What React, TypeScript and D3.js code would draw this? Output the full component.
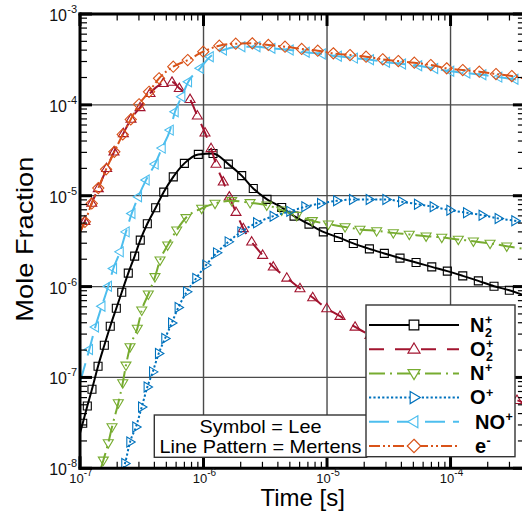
import React from 'react';
import * as d3 from 'd3';

type Pt = [number, number];

// time [s], mole fraction
const N2plus: Pt[] = [
  [1e-7, 2.43e-8], [1.052e-7, 3.13e-8], [1.146e-7, 4.85e-8], [1.25e-7, 7.41e-8], [1.40e-7, 1.33e-7],
  [1.574e-7, 2.26e-7], [1.758e-7, 3.66e-7], [1.968e-7, 5.78e-7], [2.178e-7, 8.67e-7], [2.46e-7, 1.406e-6],
  [2.77e-7, 2.163e-6], [3.076e-7, 3.243e-6], [3.508e-7, 4.909e-6], [4.10e-7, 7.36e-6], [4.764e-7, 1.096e-5],
  [5.69e-7, 1.614e-5], [7.0e-7, 2.27e-5], [9.08e-7, 2.85e-5], [1.194e-6, 2.91e-5], [1.589e-6, 2.228e-5],
  [2.037e-6, 1.663e-5], [2.529e-6, 1.202e-5], [3.266e-6, 9.12e-6], [4.295e-6, 7.43e-6], [5.41e-6, 5.957e-6],
  [7.145e-6, 4.864e-6], [9.33e-6, 4.0e-6], [1.236e-5, 3.475e-6], [1.633e-5, 2.985e-6], [2.203e-5, 2.6e-6],
  [2.911e-5, 2.317e-6], [3.9e-5, 2.056e-6], [5.26e-5, 1.841e-6], [7.047e-5, 1.648e-6], [9.42e-5, 1.479e-6],
  [1.256e-4, 1.312e-6], [1.679e-4, 1.156e-6], [2.249e-4, 1.009e-6], [2.992e-4, 9.12e-7], [3.98e-4, 7.94e-7],
];

const O2plus: Pt[] = [
  [1e-7, 3.97e-6], [1.096e-7, 5.25e-6], [1.245e-7, 8.3e-6], [1.406e-7, 1.202e-5], [1.644e-7, 2.0e-5],
  [1.884e-7, 3.04e-5], [2.244e-7, 4.853e-5], [2.588e-7, 6.98e-5], [3.062e-7, 9.376e-5], [3.69e-7, 1.34e-4],
  [4.72e-7, 1.726e-4], [5.559e-7, 1.782e-4], [6.368e-7, 1.521e-4], [7.78e-7, 1.151e-4], [8.913e-7, 7.586e-5],
  [1.028e-6, 4.932e-5], [1.151e-6, 3.319e-5], [1.262e-6, 2.228e-5], [1.445e-6, 1.422e-5], [1.618e-6, 9.73e-6],
  [1.832e-6, 6.592e-6], [2.099e-6, 4.365e-6], [2.455e-6, 3.105e-6], [3.013e-6, 2.218e-6], [3.673e-6, 1.648e-6],
  [4.721e-6, 1.245e-6], [6.039e-6, 9.53e-7], [7.656e-6, 7.586e-7], [9.95e-6, 5.741e-7], [1.274e-5, 4.72e-7],
  [1.687e-5, 3.597e-7], [2.228e-5, 2.917e-7], [3.9e-5, 1.897e-7], [9.91e-5, 1.057e-7], [3.451e-4, 5.61e-8],
  [4.17e-4, 5.13e-8],
];

const Nplus: Pt[] = [
  [1.479e-7, 1e-8], [1.545e-7, 1.225e-8], [1.694e-7, 1.901e-8], [1.816e-7, 2.851e-8], [2.042e-7, 5.236e-8],
  [2.218e-7, 8.69e-8], [2.355e-7, 1.361e-7], [2.541e-7, 2.168e-7], [2.911e-7, 3.459e-7], [3.162e-7, 5.495e-7],
  [3.573e-7, 8.24e-7], [4.046e-7, 1.279e-6], [4.446e-7, 1.954e-6], [5.129e-7, 2.858e-6], [6.067e-7, 4.178e-6],
  [7.211e-7, 5.715e-6], [9.66e-7, 7.244e-6], [1.239e-6, 8.22e-6], [1.69e-6, 8.79e-6], [2.382e-6, 8.356e-6],
  [3.251e-6, 7.87e-6], [4.295e-6, 6.934e-6], [5.689e-6, 6.039e-6], [7.603e-6, 5.297e-6], [1.026e-5, 4.864e-6],
  [1.4e-5, 4.539e-6], [1.849e-5, 4.256e-6], [2.523e-5, 4.102e-6], [3.443e-5, 3.9e-6], [4.634e-5, 3.75e-6],
  [6.339e-5, 3.589e-6], [8.492e-5, 3.475e-6], [1.156e-4, 3.304e-6], [1.531e-4, 3.162e-6], [2.089e-4, 2.985e-6],
  [2.851e-4, 2.786e-6], [4.17e-4, 2.57e-6],
];

const Oplus: Pt[] = [
  [2.249e-7, 1e-8], [2.312e-7, 1.127e-8], [2.541e-7, 1.95e-8], [2.838e-7, 2.851e-8], [3.162e-7, 4.732e-8],
  [3.508e-7, 7.852e-8], [3.882e-7, 1.151e-7], [4.335e-7, 1.832e-7], [4.875e-7, 2.679e-7], [5.534e-7, 3.981e-7],
  [6.252e-7, 5.888e-7], [7.311e-7, 8.75e-7], [8.69e-7, 1.227e-6], [1.047e-6, 1.722e-6], [1.279e-6, 2.35e-6],
  [1.589e-6, 3.105e-6], [2.014e-6, 4.0e-6], [2.698e-6, 5.035e-6], [3.673e-6, 5.957e-6], [5.012e-6, 6.73e-6],
  [6.637e-6, 7.551e-6], [8.892e-6, 8.22e-6], [1.2e-5, 8.79e-6], [1.614e-5, 9.1e-6], [2.203e-5, 9.1e-6],
  [3.006e-5, 9.1e-6], [4.027e-5, 8.57e-6], [5.42e-5, 8.07e-6], [7.261e-5, 7.551e-6], [9.91e-5, 6.934e-6],
  [1.352e-4, 6.486e-6], [1.807e-4, 6.109e-6], [2.438e-4, 5.623e-6], [3.327e-4, 5.297e-6], [4.17e-4, 5.01e-6],
];

const NOplus: Pt[] = [
  [1e-7, 8.85e-8], [1.189e-7, 2.028e-7], [1.33e-7, 3.597e-7], [1.5e-7, 6.081e-7], [1.694e-7, 1.009e-6],
  [1.862e-7, 1.581e-6], [2.109e-7, 2.41e-6], [2.355e-7, 4.0e-6], [2.624e-7, 6.383e-6], [2.965e-7, 9.73e-6],
  [3.42e-7, 1.486e-5], [4.046e-7, 2.228e-5], [4.613e-7, 3.342e-5], [5.358e-7, 5.272e-5], [5.875e-7, 8.395e-5],
  [6.653e-7, 1.227e-4], [7.534e-7, 1.795e-4], [9.376e-7, 2.523e-4], [1.13e-6, 3.388e-4], [1.445e-6, 4.018e-4],
  [2.037e-6, 4.365e-4], [2.698e-6, 4.365e-4], [3.565e-6, 4.188e-4], [5.012e-6, 4.018e-4], [6.76e-6, 3.8e-4],
  [9.12e-6, 3.63e-4], [1.23e-5, 3.43e-4], [1.66e-5, 3.27e-4], [2.24e-5, 3.13e-4], [3.02e-5, 2.95e-4],
  [4.07e-5, 2.82e-4], [5.5e-5, 2.69e-4], [7.41e-5, 2.51e-4], [1e-4, 2.34e-4], [1.35e-4, 2.24e-4],
  [1.82e-4, 2.14e-4], [2.45e-4, 2.02e-4], [3.31e-4, 1.91e-4], [4.17e-4, 1.82e-4],
];

const Eminus: Pt[] = [
  [1e-7, 3.97e-6], [1.096e-7, 5.164e-6], [1.245e-7, 8.22e-6], [1.406e-7, 1.213e-5], [1.626e-7, 1.95e-5],
  [1.897e-7, 3.04e-5], [2.218e-7, 4.73e-5], [2.576e-7, 6.92e-5], [3.006e-7, 1.014e-4], [3.622e-7, 1.393e-4],
  [4.365e-7, 1.959e-4], [5.69e-7, 2.63e-4], [7.447e-7, 3.112e-4], [9.95e-7, 3.846e-4], [1.343e-6, 4.477e-4],
  [1.824e-6, 4.71e-4], [2.483e-6, 4.753e-4], [3.35e-6, 4.56e-4], [4.571e-6, 4.365e-4], [6.237e-6, 4.121e-4],
  [8.414e-6, 3.945e-4], [1.125e-5, 3.69e-4], [1.535e-5, 3.532e-4], [2.07e-5, 3.388e-4], [2.825e-5, 3.17e-4],
  [3.776e-5, 3.034e-4], [5.093e-5, 2.911e-4], [6.918e-5, 2.742e-4], [9.31e-5, 2.523e-4], [1.256e-4, 2.415e-4],
  [1.71e-4, 2.317e-4], [2.333e-4, 2.183e-4], [3.133e-4, 2.075e-4], [3.98e-4, 1.95e-4],
];

const seriesNames = ['N2+', 'O2+', 'N+', 'O+', 'NO+', 'e-'];
const seriesData = [N2plus, O2plus, Nplus, Oplus, NOplus, Eminus];
const seriesColors = ['#000000', '#A2142F', '#77AC30', '#0072BD', '#4DBEEE', '#D95319'];
const seriesDash = ['', '15,11', '16,5,2,5', '2.2,2.2', '20,8', '11,3,2,3,2,3'];
const seriesMarker = ['square', 'up', 'down', 'right', 'left', 'diamond'];
const legendBase = ['N', 'O', 'N', 'O', 'NO', 'e'];
const legendSub = ['2', '2', '', '', '', ''];
const legendSup = ['+', '+', '+', '+', '+', '-'];

const xTickExps = [-7, -6, -5, -4];
const yTickExps = [-8, -7, -6, -5, -4, -3];
const boxLines = ['Symbol = Lee', 'Line Pattern = Mertens'];
const xTitle = 'Time [s]';
const yTitle = 'Mole Fraction';

const FONT = '"Liberation Sans", Arial, Helvetica, sans-serif';

function markerPath(type: string, s: number): string {
  const a = 5.2 * s, b = 3.2 * s, h = 5 * s, q = 4 * s, d = 5.6 * s;
  switch (type) {
    case 'square': return `M${-q},${-q}H${q}V${q}H${-q}Z`;
    case 'up': return `M0,${-a}L${h},${b}L${-h},${b}Z`;
    case 'down': return `M0,${a}L${h},${-b}L${-h},${-b}Z`;
    case 'right': return `M${a},0L${-b},${h}L${-b},${-h}Z`;
    case 'left': return `M${-a},0L${b},${h}L${b},${-h}Z`;
    default: return `M0,${-d}L${d},0L0,${d}L${-d},0Z`;
  }
}

// approximate bold advance widths (em) for legend base letters
const boldWidth: Record<string, number> = { N: 0.722, O: 0.778, e: 0.556 };

export default function App() {
  const X0 = 80, X1 = 524.9, Y0 = 468.3, Y1 = 14;
  const x = d3.scaleLog().domain([1e-7, 4e-4]).range([X0, X1]);
  const y = d3.scaleLog().domain([1e-8, 1e-3]).range([Y0, Y1]);
  const line = d3.line<Pt>().x(d => x(d[0])).y(d => y(d[1])).curve(d3.curveMonotoneX);

  const xMinor: number[] = [];
  for (let k = -7; k <= -4; k++) for (let m = 2; m <= 9; m++) {
    const v = m * Math.pow(10, k);
    if (x(v) < 522) xMinor.push(v);
  }
  const yMinor: number[] = [];
  for (let k = -8; k <= -4; k++) for (let m = 2; m <= 9; m++) yMinor.push(m * Math.pow(10, k));

  const gridColor = '#4a4a4a';
  const rowY = (i: number) => 325 + i * 24.2;

  return (
    <svg width={522} height={516} style={{ position: 'fixed', left: 0, top: 0, background: '#fff' }}
      fontFamily={FONT}>
      <defs>
        <clipPath id="plotclip"><rect x={X0} y={Y1} width={X1 - X0} height={Y0 - Y1} /></clipPath>
      </defs>
      <rect x={0} y={0} width={522} height={516} fill="#fff" />
      {/* grid */}
      {xTickExps.slice(1).map(e => (
        <line key={'gx' + e} x1={x(Math.pow(10, e))} x2={x(Math.pow(10, e))} y1={Y1} y2={Y0}
          stroke={gridColor} strokeWidth={1.4} />
      ))}
      {yTickExps.slice(1, -1).map(e => (
        <line key={'gy' + e} x1={X0} x2={X1} y1={y(Math.pow(10, e))} y2={y(Math.pow(10, e))}
          stroke={gridColor} strokeWidth={1.3} />
      ))}
      {/* series */}
      <g clipPath="url(#plotclip)">
        {seriesData.map((data, i) => (
          <g key={seriesNames[i]}>
            <path d={line(data) || ''} fill="none" stroke={seriesColors[i]} strokeWidth={2}
              strokeDasharray={seriesDash[i] || undefined} />
            {data.filter(d => x(d[0]) > 81.5 && x(d[0]) < 519.5 && y(d[1]) < 466 && y(d[1]) > 16).map((d, j) => (
              <path key={j} d={markerPath(seriesMarker[i], 1)} transform={`translate(${x(d[0])},${y(d[1])})`}
                fill="none" stroke={seriesColors[i]} strokeWidth={1.1} />
            ))}
          </g>
        ))}
      </g>
      {/* axes frame */}
      <line x1={X0} x2={X0} y1={Y1 - 1.5} y2={Y0 + 1.5} stroke="#000" strokeWidth={3} />
      <line x1={X1} x2={X1} y1={Y1 - 1.5} y2={Y0 + 1.5} stroke="#000" strokeWidth={3} />
      <line x1={X0 - 1.5} x2={X1} y1={Y1} y2={Y1} stroke="#000" strokeWidth={3} />
      <line x1={X0 - 1.5} x2={X1} y1={Y0} y2={Y0} stroke="#000" strokeWidth={3} />
      {/* x ticks */}
      {xMinor.map(v => (
        <g key={'xm' + v}>
          <line x1={x(v)} x2={x(v)} y1={Y0} y2={Y0 - 6.5} stroke="#000" strokeWidth={1.2} />
          <line x1={x(v)} x2={x(v)} y1={Y1} y2={Y1 + 6.5} stroke="#000" strokeWidth={1.2} />
        </g>
      ))}
      {xTickExps.map(e => {
        const px = x(Math.pow(10, e));
        return (
          <g key={'xM' + e}>
            <line x1={px} x2={px} y1={Y0} y2={Y0 - 12} stroke="#000" strokeWidth={3} />
            <line x1={px} x2={px} y1={Y1} y2={Y1 + 12} stroke="#000" strokeWidth={3} />
            <text x={px + 1} y={482.5} textAnchor="middle" fontSize={13} fill="#111">
              10<tspan dy={-6.5} fontSize={10}>{String(e)}</tspan>
            </text>
          </g>
        );
      })}
      {/* y ticks */}
      {yMinor.map(v => (
        <g key={'ym' + v}>
          <line x1={X0} x2={X0 + 7} y1={y(v)} y2={y(v)} stroke="#000" strokeWidth={1.2} />
          <line x1={X1} x2={X1 - 7} y1={y(v)} y2={y(v)} stroke="#000" strokeWidth={1.2} />
        </g>
      ))}
      {yTickExps.map(e => {
        const py = y(Math.pow(10, e));
        return (
          <g key={'yM' + e}>
            <line x1={X0} x2={X0 + 12} y1={py} y2={py} stroke="#000" strokeWidth={3} />
            <line x1={X1} x2={X1 - 12} y1={py} y2={py} stroke="#000" strokeWidth={3} />
            <text x={67} y={py + 7} textAnchor="end" fontSize={16} fill="#111">10</text>
            <text x={67.3} y={py - 1} textAnchor="start" fontSize={11} fill="#111">{String(e)}</text>
          </g>
        );
      })}
      {/* axis titles */}
      <text x={302.7} y={505.5} textAnchor="middle" fontSize={24} fill="#000">{xTitle}</text>
      <text transform="translate(33,239.2) rotate(-90)" textAnchor="middle" fontSize={24.5}
        textLength={165} lengthAdjust="spacingAndGlyphs" fill="#000">{yTitle}</text>
      {/* note box */}
      <rect x={154.3} y={415} width={212.4} height={42.3} fill="#fff" stroke="#333" strokeWidth={1.4} />
      <text x={260.5} y={433.3} textAnchor="middle" fontSize={18.5} textLength={122}
        lengthAdjust="spacingAndGlyphs" fill="#000">{boxLines[0]}</text>
      <text x={260.5} y={453.3} textAnchor="middle" fontSize={18.5} textLength={202}
        lengthAdjust="spacingAndGlyphs" fill="#000">{boxLines[1]}</text>
      {/* legend */}
      <rect x={366} y={305} width={149} height={151.7} fill="#fff" stroke="#333" strokeWidth={1.4} />
      {seriesNames.map((n, i) => {
        const ly = rowY(i);
        const lx = legendBase[i].length > 1 || legendSup[i] === '-' ? 475 : 470;
        const baseW = legendBase[i].split('').reduce((s, c) => s + (boldWidth[c] || 0.7), 0) * 20;
        const sx = lx + baseW + 0.5;
        return (
          <g key={'lg' + n}>
            <line x1={369} x2={459} y1={ly} y2={ly} stroke={seriesColors[i]} strokeWidth={2}
              strokeDasharray={seriesDash[i] || undefined} />
            <path d={markerPath(seriesMarker[i], 1.2)} transform={`translate(414,${ly})`}
              fill="#fff" stroke={seriesColors[i]} strokeWidth={1.2} />
            <text x={lx} y={ly + 6.7} fontSize={20} fontWeight="bold" fill="#000">{legendBase[i]}</text>
            <text x={sx} y={ly - 1} fontSize={12.5} fontWeight="bold" fill="#000">{legendSup[i]}</text>
            {legendSub[i] ? (
              <text x={sx} y={ly + 12} fontSize={12.5} fontWeight="bold" fill="#000">{legendSub[i]}</text>
            ) : null}
          </g>
        );
      })}
    </svg>
  );
}
